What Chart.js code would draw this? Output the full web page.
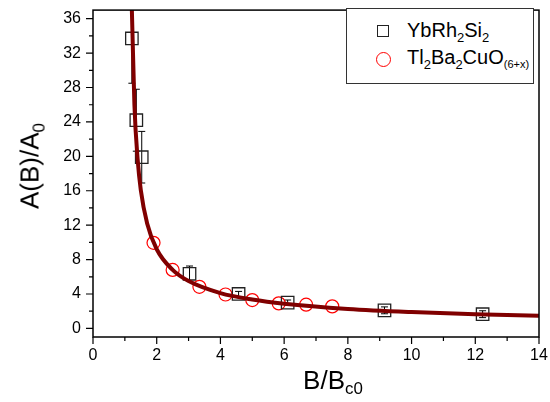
<!DOCTYPE html>
<html>
<head>
<meta charset="utf-8">
<script src="https://cdn.jsdelivr.net/npm/chart.js@4.4.0/dist/chart.umd.min.js"></script>
<style>
  body { margin: 0; background: #fff; }
  #wrap { position: relative; width: 550px; height: 402px; font-family: "Liberation Sans", Arial, sans-serif; color: #000; }
  canvas { position: absolute; left: 0; top: 0; }
  .ytitle { position: absolute; left: 30px; top: 166px; transform: translate(-50%, -50%) rotate(-90deg); font-size: 26px; white-space: nowrap; }
  .xtitle { position: absolute; left: 333px; top: 380px; transform: translate(-50%, -50%); font-size: 26px; white-space: nowrap; }
  sub { font-size: 65%; vertical-align: -0.35em; line-height: 0; }
  #legend { position: absolute; left: 346px; top: 8px; width: 186px; height: 74px; border: 1.5px solid #333; background: #fff; }
  .row { position: absolute; left: 0; font-size: 20px; line-height: 20px; white-space: nowrap; }
  .mk { position: absolute; box-sizing: border-box; }
  .sq { width: 12px; height: 12px; border: 1.3px solid #222; }
  .ci { width: 15px; height: 15px; border: 1.3px solid #f00; border-radius: 50%; }
  .lbl { position: absolute; left: 60px; }
  .lbl sub.small { font-size: 55%; }
</style>
</head>
<body>
<div id="wrap">
  <canvas id="grafica" width="550" height="402"></canvas>
  <div class="ytitle">A(B)/A<sub>0</sub></div>
  <div class="xtitle">B/B<sub>c0</sub></div>
  <div id="legend">
    <div class="mk sq" style="left:30px; top:16px;"></div>
    <div class="row" style="top:11px;"><span class="lbl">YbRh<sub>2</sub>Si<sub>2</sub></span></div>
    <div class="mk ci" style="left:29px; top:43px;"></div>
    <div class="row" style="top:38px;"><span class="lbl">Tl<sub>2</sub>Ba<sub>2</sub>CuO<sub class="small">(6+x)</sub></span></div>
  </div>
</div>
<script>
// YbRh2Si2 (squares) con barras de error
const ybX = [1.22, 1.36, 1.53, 3.03, 4.57, 6.11, 9.15, 12.23];
const ybY = [33.7, 24.2, 19.9, 6.35, 4.0, 3.0, 2.1, 1.65];
const ybErr = [5.2, 3.6, 3.0, 0.9, 0.3, 0.3, 0.4, 0.4];

// Tl2Ba2CuO(6+x) (circles)
const tlX = [1.90, 2.50, 3.34, 4.16, 5.00, 5.83, 6.69, 7.51];
const tlY = [9.95, 6.8, 4.83, 3.94, 3.29, 2.91, 2.76, 2.56];

// curva de ajuste
const fitX = [1.2, 1.22, 1.3, 1.4, 1.5, 1.7, 2.0, 2.5, 3.0, 4.0, 5.0, 6.0, 8.0, 10.0, 12.0, 14.0];
const fitY = [39, 37.0, 26.0, 19.7, 16.1, 12.2, 9.2, 6.8, 5.5, 4.1, 3.35, 2.86, 2.26, 1.90, 1.65, 1.47];

const xTicks = [0, 2, 4, 6, 8, 10, 12, 14];
const yTicks = [0, 4, 8, 12, 16, 20, 24, 28, 32, 36];

const toPts = (xs, ys) => xs.map((x, i) => ({ x: x, y: ys[i] }));

function sinPadding(s) {
    s.paddingTop = 0; s.paddingBottom = 0;
    s.paddingLeft = 0; s.paddingRight = 0;
}

// barras de error + marcas de ejes + marco
const extras = {
    id: 'extras',
    beforeDatasetsDraw(chart) {
        const { ctx, chartArea, scales } = chart;
        ctx.save();
        ctx.beginPath();
        ctx.rect(chartArea.left, chartArea.top, chartArea.right - chartArea.left, chartArea.bottom - chartArea.top);
        ctx.clip();
        ctx.strokeStyle = '#000';
        ctx.lineWidth = 1;
        ybX.forEach((x, i) => {
            const px = scales.x.getPixelForValue(x);
            const top = scales.y.getPixelForValue(ybY[i] + ybErr[i]);
            const bot = scales.y.getPixelForValue(ybY[i] - ybErr[i]);
            ctx.beginPath();
            ctx.moveTo(px, top); ctx.lineTo(px, bot);
            ctx.moveTo(px - 3.5, top); ctx.lineTo(px + 3.5, top);
            ctx.moveTo(px - 3.5, bot); ctx.lineTo(px + 3.5, bot);
            ctx.stroke();
        });
        ctx.restore();
    },
    afterDraw(chart) {
        const { ctx, chartArea, scales } = chart;
        ctx.save();
        ctx.strokeStyle = '#000';
        ctx.lineWidth = 1.5;
        ctx.strokeRect(chartArea.left, chartArea.top, chartArea.right - chartArea.left, chartArea.bottom - chartArea.top);
        ctx.lineWidth = 1.2;
        ctx.beginPath();
        for (let v = 0; v <= 14; v += 1) {
            const px = scales.x.getPixelForValue(v);
            const len = v % 2 === 0 ? 7 : 4;
            ctx.moveTo(px, chartArea.bottom);
            ctx.lineTo(px, chartArea.bottom + len);
        }
        for (let v = 0; v <= 36; v += 2) {
            const py = scales.y.getPixelForValue(v);
            const len = v % 4 === 0 ? 7 : 4;
            ctx.moveTo(chartArea.left, py);
            ctx.lineTo(chartArea.left - len, py);
        }
        ctx.stroke();
        ctx.restore();
    }
};

const chart = new Chart(document.getElementById('grafica').getContext('2d'), {
    type: 'scatter',
    data: {
        datasets: [
            {
                label: 'ajuste',
                data: toPts(fitX, fitY),
                showLine: true,
                borderColor: '#800000',
                borderWidth: 4,
                pointRadius: 0,
                cubicInterpolationMode: 'monotone'
            },
            {
                label: 'YbRh2Si2',
                data: toPts(ybX, ybY),
                pointStyle: 'rect',
                pointRadius: 8.8,
                borderColor: '#222',
                borderWidth: 1.3,
                backgroundColor: 'rgba(0,0,0,0)'
            },
            {
                label: 'Tl2Ba2CuO(6+x)',
                data: toPts(tlX, tlY),
                pointStyle: 'circle',
                pointRadius: 6.5,
                borderColor: '#ff0000',
                borderWidth: 1.2,
                backgroundColor: 'rgba(0,0,0,0)'
            }
        ]
    },
    options: {
        responsive: false,
        animation: false,
        devicePixelRatio: 1,
        layout: { padding: { top: 7, right: 11, left: 0, bottom: 0 } },
        plugins: { legend: { display: false }, tooltip: { enabled: false } },
        scales: {
            x: {
                type: 'linear', min: 0, max: 14,
                afterFit: s => { s.height = 65; sinPadding(s); },
                afterBuildTicks: s => { s.ticks = xTicks.map(v => ({ value: v })); },
                grid: { drawOnChartArea: false, drawTicks: false },
                border: { display: false },
                ticks: { padding: 9, color: '#000', font: { family: 'Liberation Sans', size: 16 } }
            },
            y: {
                type: 'linear', min: -1, max: 37,
                afterFit: s => { s.width = 93; sinPadding(s); },
                afterBuildTicks: s => { s.ticks = yTicks.map(v => ({ value: v })); },
                grid: { drawOnChartArea: false, drawTicks: false },
                border: { display: false },
                ticks: { padding: 12, color: '#000', font: { family: 'Liberation Sans', size: 16 } }
            }
        }
    },
    plugins: [extras]
});
</script>
</body>
</html>
